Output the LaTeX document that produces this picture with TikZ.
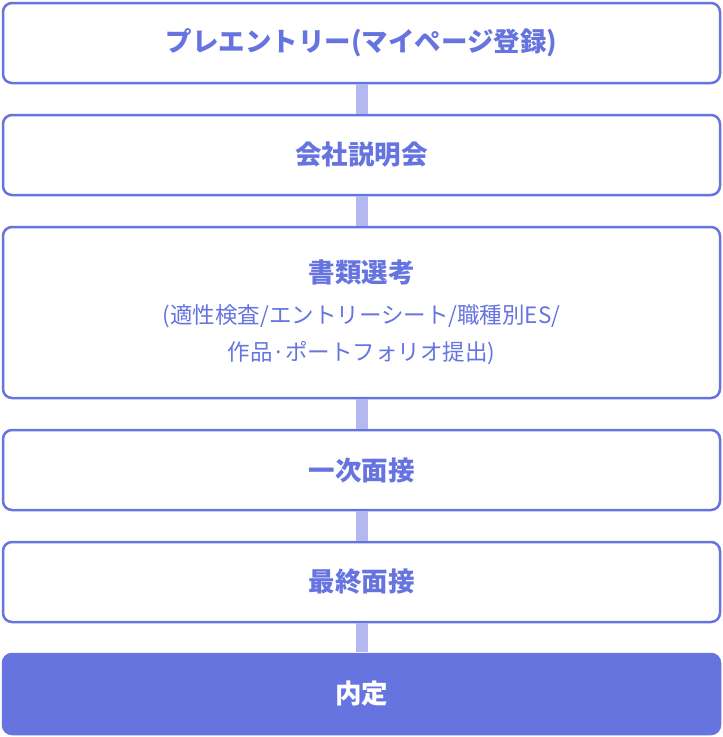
\documentclass[tikz,border=0pt]{standalone}
\usepackage{fontspec}
\usepackage{tikz}
\usetikzlibrary{positioning}
\newfontfamily\jp{Noto Sans CJK JP}
\definecolor{flow}{HTML}{6674E0}
\definecolor{flowlight}{HTML}{B3B9F0}

\begin{document}
\begin{tikzpicture}[x=1pt,y=-1pt,node distance=32pt,
  stage/.style={draw=flow,line width=2.5pt,rounded corners=9pt,
    minimum width=717pt,minimum height=80pt,outer sep=0pt,
    text=flow,align=center,font=\jp\bfseries\fontsize{26.5}{32}\selectfont},
  goal/.style={stage,fill=flow,text=white},
  link/.style={flowlight,line width=12pt,shorten <=1.25pt,shorten >=1.25pt}]
\useasboundingbox (0,0) rectangle (723,737);
\node[stage](entry) at (361.5,43){プレエントリー(マイページ登録)};
\node[stage,below=of entry](briefing){会社説明会};
\node[stage,below=of briefing,minimum height=171pt,
  font=\jp\mdseries\fontsize{22.5}{37}\selectfont](docs){\bfseries\fontsize{26.5}{37}\selectfont 書類選考\\[4pt]
  (適性検査/エントリーシート/職種別ES/\\
  作品·ポートフォリオ提出)};
\node[stage,below=of docs](first){一次面接};
\node[stage,below=of first](final){最終面接};
\node[goal,below=of final](offer){内定};
\draw[link] (entry) -- (briefing);
\draw[link] (briefing) -- (docs);
\draw[link] (docs) -- (first);
\draw[link] (first) -- (final);
\draw[link,shorten >=2.5pt] (final) -- (offer);
\end{tikzpicture}
\end{document}
